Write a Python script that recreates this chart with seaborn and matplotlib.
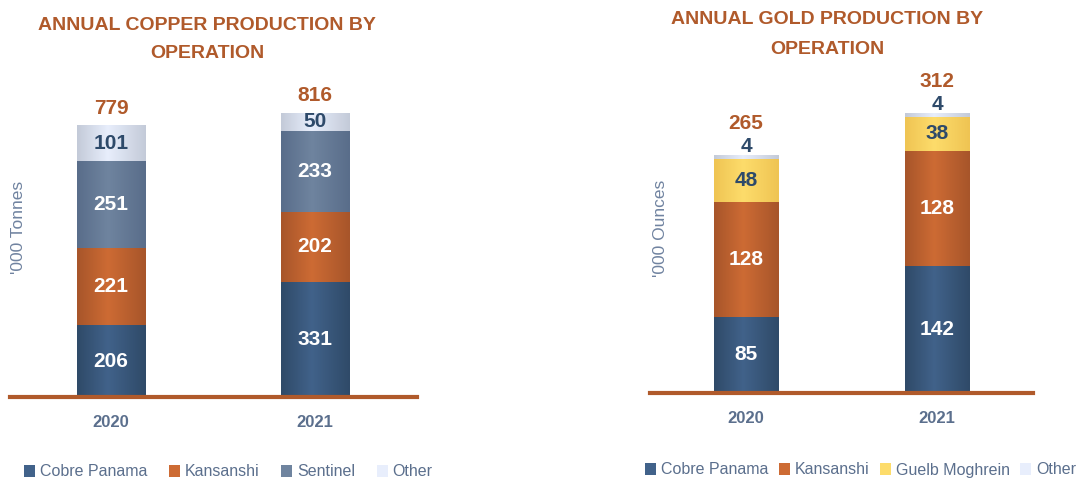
import numpy as np
import matplotlib
matplotlib.use('Agg')
import matplotlib.pyplot as plt
import seaborn as sns
from matplotlib.colors import LinearSegmentedColormap
from matplotlib.patches import Patch

# ---- data ----
years = ['2020', '2021']

copper_ops = ['Cobre Panama', 'Kansanshi', 'Sentinel', 'Other']
copper_cobre = [206, 331]
copper_kansanshi = [221, 202]
copper_sentinel = [251, 233]
copper_other = [101, 50]

gold_ops = ['Cobre Panama', 'Kansanshi', 'Guelb Moghrein', 'Other']
gold_cobre = [85, 142]
gold_kansanshi = [128, 128]
gold_guelb = [48, 38]
gold_other = [4, 4]

# ---- colours: (edge shade, centre shade) for the shaded bars ----
shades = {
    'Cobre Panama': ('#2f4a68', '#41628a'),
    'Kansanshi': ('#a7552a', '#cd6b34'),
    'Sentinel': ('#596d8a', '#6f849f'),
    'Guelb Moghrein': ('#efc453', '#fddc6b'),
    'Other': ('#c3cad8', '#e8eefc'),
}
dark_text = {'Other', 'Guelb Moghrein'}
ORANGE = '#b05a2b'
NAVY = '#2e4a6a'
SLATE = '#5b6f8d'
LABEL = '#7083a0'

sns.set_theme(style='white')
plt.rcParams['font.family'] = ['Liberation Sans', 'DejaVu Sans']

W, H = 1078, 478
fig = plt.figure(figsize=(W / 100, H / 100), dpi=100)
grad = np.linspace(0, 1, 256).reshape(1, -1)


def stacked(ax, series, names, width, outside=()):
    bottom = np.zeros(len(years))
    for vals, name in zip(series, names):
        n0 = len(ax.patches)
        edge, mid = shades[name]
        sns.barplot(x=years, y=vals, bottom=bottom, color=mid, saturation=1,
                    width=width, ax=ax, zorder=1)
        cmap = LinearSegmentedColormap.from_list(name, [(0, edge), (0.45, mid), (1, edge)])
        for p in ax.patches[n0:]:
            x0, y0 = p.get_x(), p.get_y()
            ax.imshow(grad, extent=[x0, x0 + p.get_width(), y0, y0 + p.get_height()],
                      cmap=cmap, aspect='auto', interpolation='bicubic', zorder=1.2)
        col = NAVY if name in dark_text else 'white'
        for i, v in enumerate(vals):
            if name in outside:
                ax.annotate(str(v), (i, bottom[i] + v), xytext=(0, 6), textcoords='offset points',
                            ha='center', va='center', color=NAVY, fontsize=15, fontweight='bold')
            else:
                ax.text(i, bottom[i] + v / 2, str(v), ha='center', va='center',
                        color=col, fontsize=15, fontweight='bold', zorder=3)
        bottom = bottom + np.array(vals)
    return bottom


def style(ax, ylab, lab_xy, ymax, xlim):
    ax.set_ylim(0, ymax)
    ax.set_xlim(*xlim)
    ax.set_yticks([])
    for s in ['left', 'top', 'right']:
        ax.spines[s].set_visible(False)
    ax.spines['bottom'].set_color(ORANGE)
    ax.spines['bottom'].set_linewidth(3)
    ax.spines['bottom'].set_zorder(4)
    ax.tick_params(axis='x', length=0, pad=13, labelsize=12, labelcolor=SLATE)
    for t in ax.get_xticklabels():
        t.set_fontweight('bold')
    ax.set_xlabel('')
    ax.set_ylabel(ylab, fontsize=12.5, color=LABEL, va='center')
    ax.yaxis.set_label_coords(*lab_xy)
    ax.set_facecolor('white')


# ---- copper panel ----
ax1 = fig.add_axes([10 / W, 81 / H, 407 / W, 313 / H])
tot = stacked(ax1, [copper_cobre, copper_kansanshi, copper_sentinel, copper_other], copper_ops, 0.336)
for i, t in enumerate(tot):
    ax1.annotate(f'{t:.0f}', (i, t), xytext=(0, 12.5), textcoords='offset points',
                 ha='center', va='center', color=ORANGE, fontsize=15, fontweight='bold')
style(ax1, "'000 Tonnes", (0.02, 0.543), 900, (-0.495, 1.5))

# ---- gold panel ----
ax2 = fig.add_axes([650 / W, 85 / H, 383 / W, 314 / H])
tot = stacked(ax2, [gold_cobre, gold_kansanshi, gold_guelb, gold_other], gold_ops, 0.336, outside=('Other',))
for i, t in enumerate(tot):
    ax2.annotate(f'{t:.0f}', (i, t), xytext=(0, 23), textcoords='offset points',
                 ha='center', va='center', color=ORANGE, fontsize=15, fontweight='bold')
style(ax2, "'000 Ounces", (0.027, 0.525), 350, (-0.503, 1.503))

# ---- titles ----
for x, ys, lines in [(207, (25, 54), ('ANNUAL COPPER PRODUCTION BY', 'OPERATION')),
                     (827, (20, 49), ('ANNUAL GOLD PRODUCTION BY', 'OPERATION'))]:
    for y, line in zip(ys, lines):
        fig.text(x / W, 1 - y / H, line, ha='center', va='center', color=ORANGE,
                 fontsize=14, fontweight='bold')

# ---- legends ----
for ops, x, y, cs in [(copper_ops, 24, 6, 1.35), (gold_ops, 645, 8, 0.65)]:
    handles = [Patch(facecolor=shades[o][1], edgecolor='none') for o in ops]
    fig.legend(handles, ops, loc='center left', bbox_to_anchor=(x / W, y / H), ncol=4,
               frameon=False, fontsize=11.5, handlelength=0.7, handleheight=0.7,
               handletextpad=0.3, columnspacing=cs, borderpad=0, borderaxespad=0,
               labelcolor=SLATE)

fig.savefig('out.png', dpi=100, facecolor='white')
